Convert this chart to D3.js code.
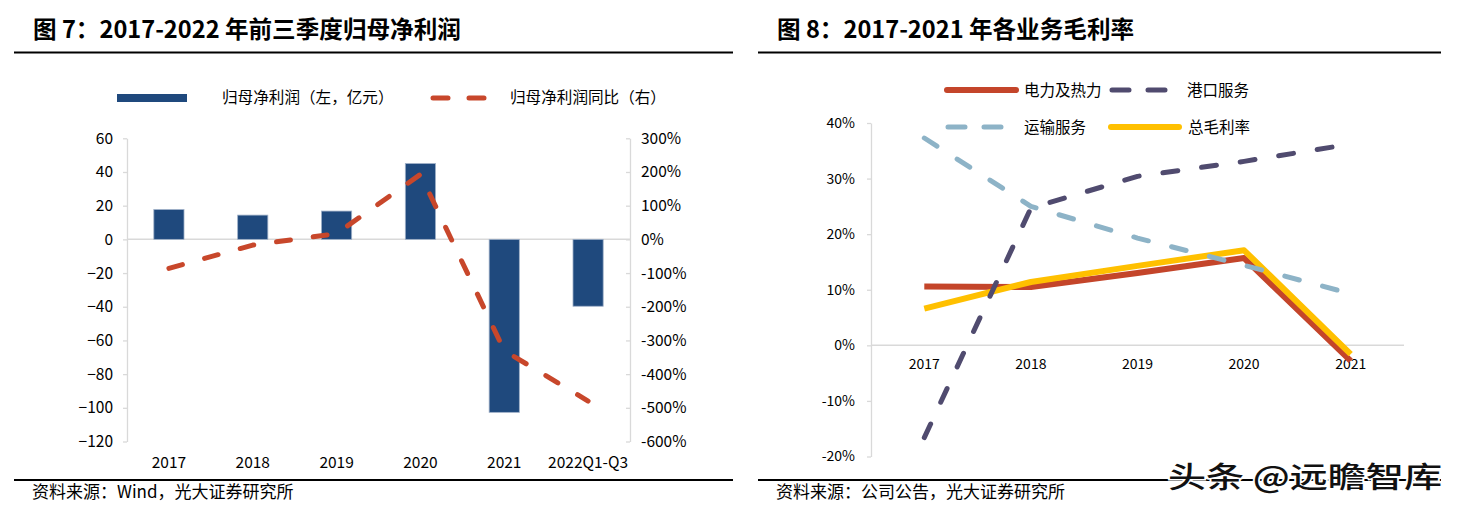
<!DOCTYPE html>
<html>
<head>
<meta charset="utf-8">
<script src="https://cdn.jsdelivr.net/npm/d3@7"></script>
<style>
html,body{margin:0;padding:0;background:#fff;}
svg{display:block;}
text{font-family:"Noto Sans CJK SC","Noto Sans",sans-serif;}
</style>
</head>
<body>
<svg id="c" width="1457" height="515"></svg>
<script>
// ---------- data ----------
const leftCategories = ["2017","2018","2019","2020","2021","2022Q1-Q3"];
const netProfit = [17.7, 14.4, 16.8, 45.0, -102.7, -39.7];          // 亿元
const netProfitYoY = [-86, -17, 17, 193, -330, -480];               // %
const leftAxisTicks = [60, 40, 20, 0, -20, -40, -60, -80, -100, -120];
const rightAxisTicks = [300, 200, 100, 0, -100, -200, -300, -400, -500, -600];

const rightCategories = ["2017","2018","2019","2020","2021"];
const powerHeat = [10.6, 10.5, 13.0, 15.7, -2.8];
const portService = [-16.6, 24.7, 30.4, 33.1, 36.2];
const transportService = [37.3, 25.0, 19.3, 14.4, 9.3];
const totalMargin = [6.6, 11.4, 14.3, 17.1, -1.6];
const marginTicks = [40, 30, 20, 10, 0, -10, -20];

const svg = d3.select("#c");
svg.append("rect").attr("width",1457).attr("height",515).attr("fill","#fff");

// ---------- frames ----------
function frame(x0, x1, title, tx, source) {
  svg.append("text").attr("x", tx).attr("y", 38)
    .attr("font-size", 23.6).attr("font-weight", 700).attr("fill", "#000").text(title);
  svg.append("line").attr("x1", x0).attr("x2", x1).attr("y1", 52.5).attr("y2", 52.5)
    .attr("stroke", "#000").attr("stroke-width", 2.2);
  svg.append("line").attr("x1", x0).attr("x2", x1).attr("y1", 480).attr("y2", 480)
    .attr("stroke", "#000").attr("stroke-width", 2.2);
  svg.append("text").attr("x", tx - 1).attr("y", 497.5)
    .attr("font-size", 17).attr("fill", "#000").text(source);
}
frame(14, 733, "图 7：2017-2022 年前三季度归母净利润", 33, "资料来源：Wind，光大证券研究所");
frame(758, 1441, "图 8：2017-2021 年各业务毛利率", 777, "资料来源：公司公告，光大证券研究所");

const gridColor = "#d9d9d9";

// ---------- left chart ----------
const xL = d3.scaleBand().domain(leftCategories).range([127, 630]).padding(0);
const yL = d3.scaleLinear().domain([-120, 60]).range([441.5, 138.3]);
const yR = d3.scaleLinear().domain([-600, 300]).range([441.5, 138.3]);

function styleAxis(g, fs) {
  g.select(".domain").attr("stroke", gridColor).attr("stroke-width", 1.3);
  g.selectAll(".tick line").attr("stroke", gridColor).attr("stroke-width", 1.3);
  g.selectAll(".tick text").attr("fill", "#000").attr("font-size", fs)
    .attr("font-family", "'Noto Sans CJK SC','Noto Sans',sans-serif");
}

const gl = svg.append("g").attr("transform", "translate(127,0)")
  .call(d3.axisLeft(yL).tickValues(leftAxisTicks).tickSizeInner(4).tickSizeOuter(0).tickPadding(10).tickFormat(d3.format("d")));
styleAxis(gl, 15.5);

const gr = svg.append("g").attr("transform", "translate(630,0)")
  .call(d3.axisRight(yR).tickValues(rightAxisTicks).tickSizeInner(-4).tickSizeOuter(0).tickPadding(11).tickFormat(d => d + "%"));
styleAxis(gr, 15.5);

// zero line
svg.append("line").attr("x1", 127).attr("x2", 630).attr("y1", yL(0)).attr("y2", yL(0))
  .attr("stroke", gridColor).attr("stroke-width", 1.5);

// bars
const barW = xL.bandwidth() * 0.36;
svg.append("g").selectAll("rect").data(leftCategories).join("rect")
  .attr("x", (d) => xL(d) + xL.bandwidth() / 2 - barW / 2)
  .attr("width", barW)
  .attr("y", (d, i) => yL(Math.max(0, netProfit[i])))
  .attr("height", (d, i) => Math.abs(yL(netProfit[i]) - yL(0)))
  .attr("fill", "#1f497d").attr("stroke", "#9fb0c8").attr("stroke-width", 0.8);

// category labels
const gxl = svg.append("g").attr("transform", `translate(0,${yL(-120)})`)
  .call(d3.axisBottom(xL).tickSize(0).tickPadding(15));
gxl.select(".domain").remove();
gxl.selectAll(".tick text").attr("fill", "#000").attr("font-size", 15.5)
  .attr("font-family", "'Noto Sans CJK SC','Noto Sans',sans-serif");

// yoy line
const lineL = d3.line().x((d, i) => xL(leftCategories[i]) + xL.bandwidth() / 2).y(d => yR(d));
svg.append("path").datum(netProfitYoY).attr("d", lineL)
  .attr("fill", "none").attr("stroke", "#c8472b").attr("stroke-width", 5)
  .attr("stroke-linecap", "round").attr("stroke-linejoin", "round")
  .attr("stroke-dasharray", "14 23");

// left legend
svg.append("rect").attr("x", 117).attr("y", 94).attr("width", 70).attr("height", 8).attr("fill", "#1f497d");
svg.append("text").attr("x", 222).attr("y", 103).attr("font-size", 15.6).attr("fill", "#000").text("归母净利润（左，亿元）");
svg.append("line").attr("x1", 433).attr("x2", 486).attr("y1", 98).attr("y2", 98)
  .attr("stroke", "#c8472b").attr("stroke-width", 5).attr("stroke-linecap", "round").attr("stroke-dasharray", "15 21");
svg.append("text").attr("x", 510).attr("y", 103).attr("font-size", 15.6).attr("fill", "#000").text("归母净利润同比（右）");

// ---------- right chart ----------
const xM = d3.scaleBand().domain(rightCategories).range([871, 1404]).padding(0);
const yM = d3.scaleLinear().domain([-20, 40]).range([456.5, 123]);

const gm = svg.append("g").attr("transform", "translate(871,0)")
  .call(d3.axisLeft(yM).tickValues(marginTicks).tickSizeInner(4).tickSizeOuter(0).tickPadding(12).tickFormat(d => d + "%"));
styleAxis(gm, 14);

svg.append("line").attr("x1", 871).attr("x2", 1404).attr("y1", yM(0)).attr("y2", yM(0))
  .attr("stroke", gridColor).attr("stroke-width", 1.5);

const gxm = svg.append("g").attr("transform", `translate(0,${yM(0)})`)
  .call(d3.axisBottom(xM).tickSize(0).tickPadding(14));
gxm.select(".domain").remove();
gxm.selectAll(".tick text").attr("fill", "#000").attr("font-size", 14)
  .attr("font-family", "'Noto Sans CJK SC','Noto Sans',sans-serif");

const lineM = d3.line().x((d, i) => xM(rightCategories[i]) + xM.bandwidth() / 2).y(d => yM(d));
const seriesM = [
  {v: powerHeat, c: "#c4452a", w: 6, dash: null},
  {v: totalMargin, c: "#ffc000", w: 6, dash: null},
  {v: transportService, c: "#8db3c7", w: 5, dash: "15 24"},
  {v: portService, c: "#504b6f", w: 5, dash: "15 24"}
];
seriesM.forEach(s => {
  const p = svg.append("path").datum(s.v).attr("d", lineM)
    .attr("fill", "none").attr("stroke", s.c).attr("stroke-width", s.w)
    .attr("stroke-linejoin", "round");
  if (s.dash) p.attr("stroke-dasharray", s.dash).attr("stroke-linecap", "round");
});

// right legend
svg.append("line").attr("x1", 947).attr("x2", 1016).attr("y1", 90).attr("y2", 90)
  .attr("stroke", "#c4452a").attr("stroke-width", 6).attr("stroke-linecap", "round");
svg.append("text").attr("x", 1024).attr("y", 96).attr("font-size", 15.5).attr("fill", "#000").text("电力及热力");
svg.append("line").attr("x1", 1112).attr("x2", 1166).attr("y1", 90).attr("y2", 90)
  .attr("stroke", "#504b6f").attr("stroke-width", 5).attr("stroke-linecap", "round").attr("stroke-dasharray", "17 19");
svg.append("text").attr("x", 1187).attr("y", 96).attr("font-size", 15.5).attr("fill", "#000").text("港口服务");

svg.append("line").attr("x1", 948).attr("x2", 1003).attr("y1", 127).attr("y2", 127)
  .attr("stroke", "#8db3c7").attr("stroke-width", 5).attr("stroke-linecap", "round").attr("stroke-dasharray", "17 19");
svg.append("text").attr("x", 1024).attr("y", 133).attr("font-size", 15.5).attr("fill", "#000").text("运输服务");
svg.append("line").attr("x1", 1111).attr("x2", 1179).attr("y1", 127).attr("y2", 127)
  .attr("stroke", "#ffc000").attr("stroke-width", 6).attr("stroke-linecap", "round");
svg.append("text").attr("x", 1188).attr("y", 133).attr("font-size", 15.5).attr("fill", "#000").text("总毛利率");

// watermark
svg.append("text").attr("x", 1168).attr("y", 488)
  .attr("font-size", 29).attr("font-weight", 500).attr("textLength", 274).attr("lengthAdjust", "spacingAndGlyphs")
  .attr("fill", "#111").attr("stroke", "#fff").attr("stroke-width", 3).attr("paint-order", "stroke")
  .text("头条 @远瞻智库");
</script>
</body>
</html>
